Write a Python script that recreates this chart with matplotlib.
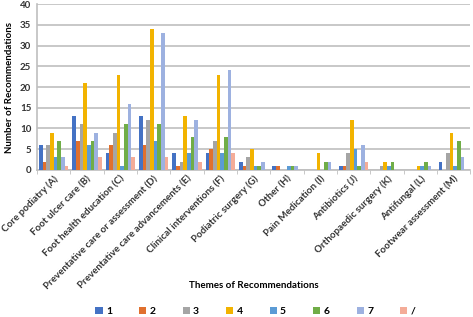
import matplotlib
matplotlib.use("Agg")
import matplotlib.pyplot as plt
import numpy as np

plt.rcParams['font.family'] = ['Lato', 'DejaVu Sans']

themes = ["Core podiatry (A)", "Foot ulcer care (B)", "Foot health education (C)",
          "Preventative care or assessment (D)", "Preventative care advancements (E)",
          "Clinical interventions (F)", "Podiatric surgery (G)", "Other (H)",
          "Pain Medication (I)", "Antibiotics (J)", "Orthopaedic surgery (K)",
          "Antifungal (L)", "Footwear assessment (M)"]
series_names = ["1", "2", "3", "4", "5", "6", "7", "/"]
s1 = [6, 13, 4, 13, 4, 4, 2, 1, 0, 1, 0, 0, 2]
s2 = [2, 7, 6, 6, 1, 5, 1, 1, 0, 1, 0, 0, 0]
s3 = [6, 11, 9, 12, 2, 7, 3, 0, 0, 4, 1, 0, 4]
s4 = [9, 21, 23, 34, 13, 23, 5, 0, 4, 12, 2, 1, 9]
s5 = [3, 6, 1, 7, 4, 4, 1, 1, 0, 5, 1, 1, 1]
s6 = [7, 7, 11, 11, 8, 8, 1, 1, 2, 1, 2, 2, 7]
s7 = [3, 9, 16, 33, 12, 24, 2, 1, 2, 6, 0, 1, 3]
s8 = [1, 3, 3, 3, 2, 4, 0, 0, 0, 2, 0, 0, 0]
series = [s1, s2, s3, s4, s5, s6, s7, s8]
colors = ["#4472C4", "#E0702E", "#A5A5A5", "#F2B300", "#5B9BD5", "#70AD47", "#9DB1E0", "#F4AC98"]

fig = plt.figure(figsize=(4.73, 3.17), dpi=100)
ax = fig.add_axes([0.078, 0.464, 0.916, 0.523])

x = np.arange(len(themes))
w = 0.11
for i, (vals, c) in enumerate(zip(series, colors)):
    ax.bar(x + (i - 3.5) * w, vals, width=w, color=c, label=series_names[i], zorder=3)

ax.set_xlim(-0.5, len(themes) - 0.5)
ax.set_ylim(0, 40)
ax.set_yticks(range(0, 41, 5))
ax.grid(axis='y', color='#BFBFBF', lw=1.2, zorder=0)
ax.set_xticks(x)
ax.set_xticklabels(themes, rotation=45, ha='right', rotation_mode='anchor',
                   fontsize=7, fontweight='bold', color='#333333')
ax.tick_params(axis='x', which='major', length=0, pad=3)
ax.set_xticks(np.arange(-0.5, len(themes)), minor=True)
ax.tick_params(axis='x', which='minor', length=3, color='#BFBFBF')
ax.tick_params(axis='y', length=0, labelsize=7, labelcolor='#333333', pad=4)
for lbl in ax.get_yticklabels():
    lbl.set_fontweight('bold')
for s in ['top', 'right']:
    ax.spines[s].set_visible(False)
ax.spines['left'].set_color('#BFBFBF')
ax.spines['bottom'].set_color('#BFBFBF')
ax.spines['left'].set_linewidth(1.2)
ax.spines['bottom'].set_linewidth(1.2)

ax.set_ylabel("Number of Recommendations", fontsize=7, fontweight='bold', labelpad=4)
fig.text(0.537, 0.098, "Themes of Recommendations", ha='center', va='center',
         fontsize=7, fontweight='bold')

fig.legend(loc='center', bbox_to_anchor=(0.54, 0.018), ncol=8, frameon=False,
           fontsize=7.5, handlelength=0.7, handleheight=0.7, columnspacing=2.6,
           handletextpad=0.3, prop={'weight': 'bold', 'size': 7.5})

fig.savefig("out.png", dpi=100)
